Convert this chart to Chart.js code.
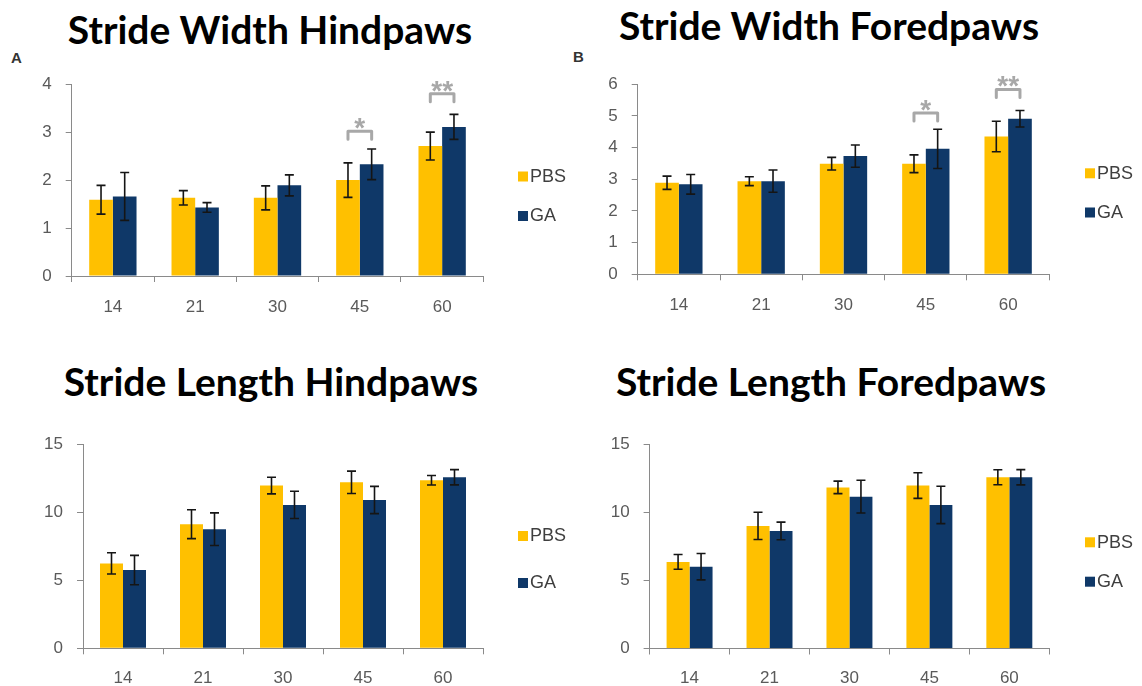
<!DOCTYPE html>
<html>
<head>
<meta charset="utf-8">
<script src="https://cdn.jsdelivr.net/npm/chart.js@4.4.1/dist/chart.umd.min.js"></script>
<style>
  html, body { margin: 0; padding: 0; background: #ffffff; }
  body { width: 1142px; height: 686px; position: relative; overflow: hidden; }
  .title {
    position: absolute; transform: translateX(-50%); white-space: nowrap;
    font-family: Lato, "Open Sans", sans-serif; font-weight: 700; font-size: 39px;
    line-height: 1; color: #000000;
  }
  .tag {
    position: absolute; font-family: "Liberation Sans", Arial, sans-serif;
    font-weight: 700; font-size: 15px; line-height: 1; color: #333333;
  }
  canvas { position: absolute; }
</style>
</head>
<body>
<div class="title" style="left:270px; top:10px;">Stride Width Hindpaws</div>
<div class="title" style="left:829px; top:6px;">Stride Width Foredpaws</div>
<div class="title" style="left:271px; top:362px;">Stride Length Hindpaws</div>
<div class="title" style="left:831px; top:362px;">Stride Length Foredpaws</div>
<div class="tag" style="left:11px; top:50px;">A</div>
<div class="tag" style="left:573px; top:49px;">B</div>

<canvas id="widthHind"></canvas>
<canvas id="widthFore"></canvas>
<canvas id="lengthHind"></canvas>
<canvas id="lengthFore"></canvas>

<script>
// Days after treatment
const categories = ['14', '21', '30', '45', '60'];
const seriesNames = ['PBS', 'GA'];

// Stride width, hindpaws (mean and error)
const widthHindPBS    = [1.59, 1.63, 1.63, 2.00, 2.71];
const widthHindPBSErr = [0.30, 0.15, 0.25, 0.36, 0.29];
const widthHindGA     = [1.66, 1.43, 1.89, 2.33, 3.11];
const widthHindGAErr  = [0.50, 0.10, 0.22, 0.32, 0.26];

// Stride width, forepaws
const widthForePBS    = [2.89, 2.94, 3.49, 3.49, 4.35];
const widthForePBSErr = [0.21, 0.14, 0.20, 0.28, 0.48];
const widthForeGA     = [2.84, 2.94, 3.73, 3.96, 4.91];
const widthForeGAErr  = [0.31, 0.35, 0.35, 0.62, 0.26];

// Stride length, hindpaws
const lengthHindPBS    = [6.24, 9.12, 11.96, 12.20, 12.35];
const lengthHindPBSErr = [0.78, 1.06, 0.61, 0.82, 0.35];
const lengthHindGA     = [5.75, 8.75, 10.54, 10.90, 12.57];
const lengthHindGAErr  = [1.08, 1.20, 1.00, 1.00, 0.56];

// Stride length, forepaws
const lengthForePBS    = [6.36, 9.00, 11.83, 11.96, 12.57];
const lengthForePBSErr = [0.54, 1.00, 0.46, 0.94, 0.55];
const lengthForeGA     = [6.01, 8.63, 11.15, 10.54, 12.57];
const lengthForeGAErr  = [0.97, 0.65, 1.20, 1.37, 0.56];

// Significance marks: category index, bracket level (axis units), label
const widthHindSig = [{ index: 3, level: 3.02, mark: '*' }, { index: 4, level: 3.80, mark: '**' }];
const widthForeSig = [{ index: 3, level: 5.09, mark: '*' }, { index: 4, level: 5.835, mark: '**' }];

// Axis ranges and tick steps
const widthHindAxis  = { max: 4,  step: 1 };
const widthForeAxis  = { max: 6,  step: 1 };
const lengthHindAxis = { max: 15, step: 5 };
const lengthForeAxis = { max: 15, step: 5 };

// ---- styling ----
const PBS_COLOR = '#FFC000';
const GA_COLOR = '#0f3868';
const AXIS_COLOR = '#8a8a8a';
const TICK_COLOR = '#5a5a5a';
const LABEL_FONT = { family: '"Liberation Sans", Arial, sans-serif', size: 17 };
const Y_AXIS_W = 50;
const X_AXIS_H = 44;

// Error bars drawn from each dataset's `errors` array through the y scale
const errorBars = {
  id: 'errorBars',
  afterDatasetsDraw(chart) {
    const ctx = chart.ctx, y = chart.scales.y;
    ctx.save();
    ctx.strokeStyle = '#151515';
    ctx.lineWidth = 1.6;
    chart.data.datasets.forEach((ds, di) => {
      const meta = chart.getDatasetMeta(di);
      meta.data.forEach((bar, i) => {
        const v = ds.data[i], e = ds.errors[i];
        const top = y.getPixelForValue(v + e), bot = y.getPixelForValue(v - e);
        const x = bar.x, cap = 4.5;
        ctx.beginPath();
        ctx.moveTo(x, top); ctx.lineTo(x, bot);
        ctx.moveTo(x - cap, top); ctx.lineTo(x + cap, top);
        ctx.moveTo(x - cap, bot); ctx.lineTo(x + cap, bot);
        ctx.stroke();
      });
    });
    ctx.restore();
  }
};

// Brackets with asterisks between the two bars of a category
const sigBrackets = {
  id: 'sigBrackets',
  afterDatasetsDraw(chart, args, opts) {
    const items = opts.items || [];
    if (!items.length) return;
    const ctx = chart.ctx, y = chart.scales.y;
    const m0 = chart.getDatasetMeta(0), m1 = chart.getDatasetMeta(1);
    ctx.save();
    ctx.strokeStyle = '#a8a8a8';
    ctx.fillStyle = '#a8a8a8';
    ctx.lineWidth = 3;
    ctx.lineJoin = 'round';
    ctx.lineCap = 'round';
    ctx.font = 'bold 28px "Liberation Sans", Arial, sans-serif';
    ctx.textAlign = 'center';
    ctx.textBaseline = 'alphabetic';
    items.forEach(it => {
      const x1 = m0.data[it.index].x, x2 = m1.data[it.index].x;
      const yt = y.getPixelForValue(it.level);
      ctx.beginPath();
      ctx.moveTo(x1, yt + 8); ctx.lineTo(x1, yt); ctx.lineTo(x2, yt); ctx.lineTo(x2, yt + 8);
      ctx.stroke();
      ctx.fillText(it.mark, (x1 + x2) / 2, yt + 6);
    });
    ctx.restore();
  }
};

// Legend: coloured squares with series names to the right of the plot
const sideLegend = {
  id: 'sideLegend',
  afterDraw(chart, args, opts) {
    const ctx = chart.ctx;
    ctx.save();
    ctx.font = '18px "Liberation Sans", Arial, sans-serif';
    ctx.textBaseline = 'middle';
    ctx.textAlign = 'left';
    chart.data.datasets.forEach((ds, i) => {
      const p = opts.boxes[i];
      ctx.fillStyle = ds.backgroundColor;
      ctx.fillRect(p.x, p.y, 10, 10);
      ctx.fillStyle = '#3f3f3f';
      ctx.fillText(ds.label, p.x + 12, p.y + 5.5);
    });
    ctx.restore();
  }
};

function buildPanel(id, c) {
  const canvas = document.getElementById(id);
  canvas.width = c.box.w; canvas.height = c.box.h;
  canvas.style.left = c.box.x + 'px'; canvas.style.top = c.box.y + 'px';
  canvas.style.width = c.box.w + 'px'; canvas.style.height = c.box.h + 'px';
  const a = c.area;
  const pad = {
    left: a.left - c.box.x - Y_AXIS_W,
    top: a.top - c.box.y,
    right: c.box.x + c.box.w - a.right,
    bottom: c.box.y + c.box.h - a.bottom - X_AXIS_H
  };
  const legendBoxes = c.legend.map(p => ({ x: p.x - c.box.x, y: p.y - c.box.y }));
  new Chart(canvas, {
    type: 'bar',
    data: {
      labels: categories,
      datasets: [
        { label: seriesNames[0], data: c.pbs, errors: c.pbsErr, backgroundColor: PBS_COLOR, borderWidth: 0 },
        { label: seriesNames[1], data: c.ga, errors: c.gaErr, backgroundColor: GA_COLOR, borderWidth: 0 }
      ]
    },
    options: {
      responsive: false, maintainAspectRatio: false, animation: false, devicePixelRatio: 1,
      layout: { padding: pad },
      datasets: { bar: { categoryPercentage: 0.575, barPercentage: 1.0 } },
      plugins: {
        legend: { display: false },
        tooltip: { enabled: false },
        sigBrackets: { items: c.sig || [] },
        sideLegend: { boxes: legendBoxes }
      },
      scales: {
        x: {
          grid: { drawOnChartArea: false, drawTicks: true, tickLength: 6, color: AXIS_COLOR, lineWidth: 1 },
          border: { display: true, color: AXIS_COLOR, width: 1 },
          ticks: { color: TICK_COLOR, font: LABEL_FONT, padding: c.xPad, maxRotation: 0 },
          afterFit(s) { s.height = X_AXIS_H; }
        },
        y: {
          min: 0, max: c.axis.max,
          grid: { drawOnChartArea: false, drawTicks: true, tickLength: 6, color: AXIS_COLOR, lineWidth: 1 },
          border: { display: true, color: AXIS_COLOR, width: 1 },
          ticks: { stepSize: c.axis.step, color: TICK_COLOR, font: LABEL_FONT, padding: 14 },
          afterFit(s) { s.width = Y_AXIS_W; }
        }
      }
    },
    plugins: [errorBars, sigBrackets, sideLegend]
  });
}

buildPanel('widthHind', {
  box: { x: 0, y: 60, w: 570, h: 280 },
  area: { left: 71.7, right: 483.3, top: 82.7, bottom: 276 },
  legend: [{ x: 518, y: 171.5 }, { x: 518, y: 211 }],
  xPad: 15,
  pbs: widthHindPBS, pbsErr: widthHindPBSErr, ga: widthHindGA, gaErr: widthHindGAErr,
  sig: widthHindSig, axis: widthHindAxis
});
buildPanel('widthFore', {
  box: { x: 572, y: 60, w: 570, h: 280 },
  area: { left: 637.7, right: 1049.3, top: 80.7, bottom: 274.3 },
  legend: [{ x: 1085, y: 168.3 }, { x: 1085, y: 207.5 }],
  xPad: 15,
  pbs: widthForePBS, pbsErr: widthForePBSErr, ga: widthForeGA, gaErr: widthForeGAErr,
  sig: widthForeSig, axis: widthForeAxis
});
buildPanel('lengthHind', {
  box: { x: 0, y: 420, w: 570, h: 266 },
  area: { left: 83, right: 483, top: 444, bottom: 648.3 },
  legend: [{ x: 518, y: 531 }, { x: 518, y: 578 }],
  xPad: 14,
  pbs: lengthHindPBS, pbsErr: lengthHindPBSErr, ga: lengthHindGA, gaErr: lengthHindGAErr,
  axis: lengthHindAxis
});
buildPanel('lengthFore', {
  box: { x: 572, y: 420, w: 570, h: 266 },
  area: { left: 649.6, right: 1049.3, top: 443.5, bottom: 648.5 },
  legend: [{ x: 1085, y: 537.3 }, { x: 1085, y: 576.7 }],
  xPad: 14,
  pbs: lengthForePBS, pbsErr: lengthForePBSErr, ga: lengthForeGA, gaErr: lengthForeGAErr,
  axis: lengthForeAxis
});
</script>
</body>
</html>
